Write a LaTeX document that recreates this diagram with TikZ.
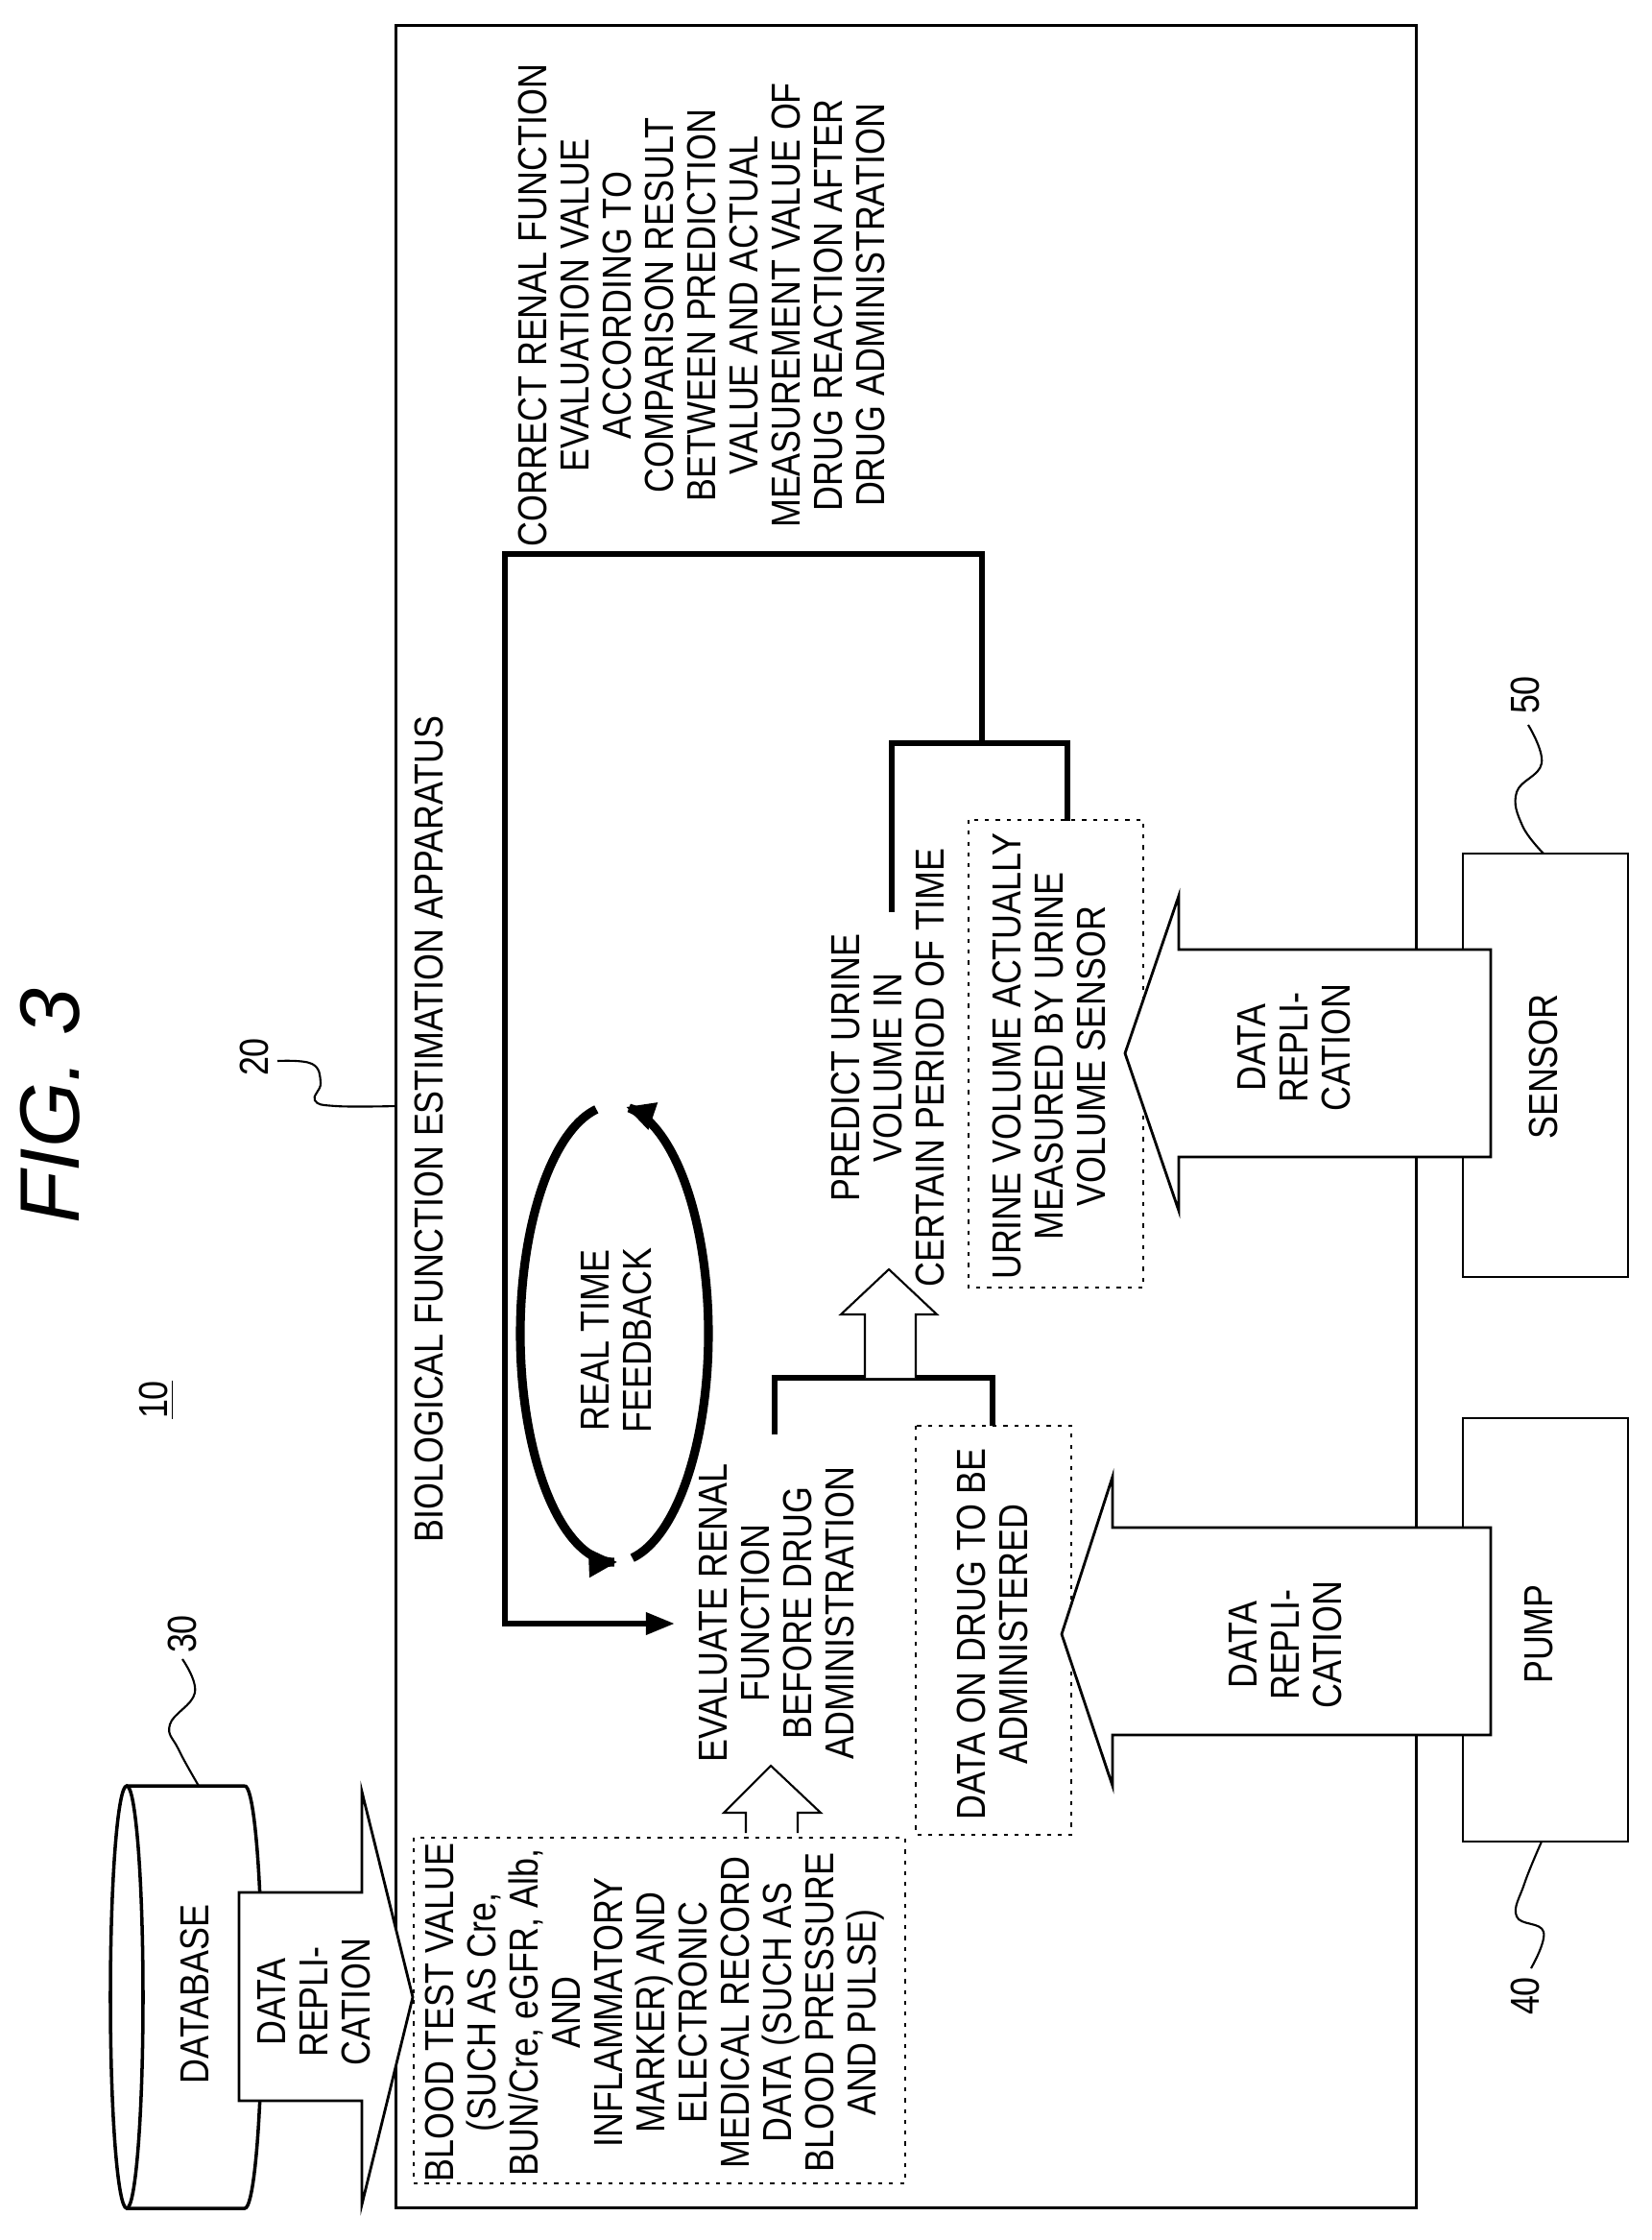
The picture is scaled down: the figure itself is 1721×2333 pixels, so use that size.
\documentclass[tikz,border=0pt]{standalone}
\usepackage{fontspec}
\setmainfont{Liberation Sans}[FakeStretch=0.85]
\newfontfamily\figfont{Liberation Sans}
\usetikzlibrary{arrows.meta}
\begin{document}
\begin{tikzpicture}[x=0.01cm,y=-0.01cm,
  txt/.style={rotate=90,align=center,inner sep=0pt,font=\fontsize{12}{12.5}\selectfont},
  thin box/.style={draw,line width=0.8pt},
  dot box/.style={draw,line width=0.6pt,dash pattern=on 1.2pt off 2pt},
  thick/.style={line width=1.8pt},
  blockarrow/.style={draw,fill=white,line width=0.8pt},
  hollow/.style={draw,fill=white,line width=0.6pt},
  lead/.style={line width=0.6pt}]
\useasboundingbox (0,0) rectangle (1721,2333);
% titles
\node[rotate=90,inner sep=0pt,font=\figfont\itshape\fontsize{25}{30}\selectfont] (fig) at (52,1152) {FIG. 3};
\node[rotate=90,inner sep=1pt,font=\fontsize{12}{12.5}\selectfont] (ten) at (163,1458) {\underline{10}};
% main box
\node[thin box,minimum width=10.62cm,minimum height=22.72cm,inner sep=0pt] (mainbox) at (944,1163) {};
\node[txt] (twenty) at (265,1101) {20};
\draw[lead] plot[smooth,tension=0.7] coordinates {(289,1105) (325,1108) (334,1128) (328,1146) (350,1152) (413,1152)};
\node[txt] (biol) at (447,1176) {BIOLOGICAL FUNCTION ESTIMATION APPARATUS};
% correct text
\node[txt] (correct) at (731,318) {CORRECT RENAL FUNCTION\\EVALUATION VALUE\\ACCORDING TO\\COMPARISON RESULT\\BETWEEN PREDICTION\\VALUE AND ACTUAL\\MEASUREMENT VALUE OF\\DRUG REACTION AFTER\\DRUG ADMINISTRATION};
% database cylinder
\draw[line width=1pt,fill=white] (132,1860) -- (255,1860)
   plot[domain=-90:90,samples=40] ({255+18*cos(\x)},{2080+220*sin(\x)}) -- (132,2300);
\draw[line width=1pt] (132,2080) ellipse [x radius=17,y radius=220];
\node[txt] (db) at (203,2077) {DATABASE};
\node[txt] (thirty) at (190,1702) {30};
\draw[lead] plot[smooth,tension=0.7] coordinates {(190,1728) (203,1763) (177,1796) (186,1822) (207,1860)};
% DB block arrow
\draw[blockarrow] (249,1971) -- (377,1971) -- (377,1866) -- (430,2080) -- (377,2296) -- (377,2188) -- (249,2188) -- cycle;
\node[txt] (dbarrow) at (327,2085) {DATA\\REPLI-\\CATION};
% blood box
\draw[dot box] (431,1914) rectangle (943,2274);
\node[txt] (blood) at (682,2096) {BLOOD TEST VALUE\\(SUCH AS Cre,\\BUN/Cre, eGFR, Alb,\\AND\\INFLAMMATORY\\MARKER) AND\\ELECTRONIC\\MEDICAL RECORD\\DATA (SUCH AS\\BLOOD PRESSURE\\AND PULSE)};
% arrow blood -> evaluate
\draw[hollow] (777,1909) -- (777,1888) -- (754,1888) -- (803,1839) -- (855,1888) -- (831,1888) -- (831,1909);
\node[txt] (eval) at (809,1680) {EVALUATE RENAL\\FUNCTION\\BEFORE DRUG\\ADMINISTRATION};
% feedback ellipse
\draw[line width=2.6pt,-{Triangle[length=0.3cm,width=0.28cm]}] plot[domain=79:-83,samples=80] ({640+98*cos(\x)},{1389+238*sin(\x)});
\draw[line width=2.6pt,-{Triangle[length=0.3cm,width=0.28cm]}] plot[domain=259:88,samples=80] ({640+98*cos(\x)},{1389+238*sin(\x)});
\node[txt] (rtf) at (642,1396) {REAL TIME\\FEEDBACK};
% drug data box
\draw[dot box] (954,1485) rectangle (1116,1911);
\node[txt] (drug) at (1034,1702) {DATA ON DRUG TO BE\\ADMINISTERED};
% predict
\node[txt] (predict) at (925,1112) {PREDICT URINE\\VOLUME IN\\CERTAIN PERIOD OF TIME};
\draw[dot box] (1009,854) rectangle (1191,1341);
\node[txt] (urine) at (1093,1100) {URINE VOLUME ACTUALLY\\MEASURED BY URINE\\VOLUME SENSOR};
% bracket 2 and arrow
\draw[thick] (807,1494) -- (807,1435) -- (1034,1435) -- (1034,1485);
\draw[hollow] (901,1435) -- (901,1369) -- (876,1369) -- (926,1322) -- (976,1369) -- (954,1369) -- (954,1435);
% feedback loop
\draw[thick] (929,950) -- (929,774) -- (1112,774) -- (1112,855);
\coordinate (fbtip) at (703,1691);
\draw[thick,-{Triangle[length=0.3cm,width=0.22cm]}] (1023,774) -- (1023,577) -- (526,577) -- (526,1691) -- (fbtip);
% pump and sensor
\draw[thin box] (1524,1477) rectangle (1696,1918);
\node[txt] (pump) at (1603,1702) {PUMP};
\draw[thin box] (1524,889) rectangle (1696,1330);
\node[txt] (sensor) at (1608,1111) {SENSOR};
\draw[blockarrow] (1553,1591) -- (1159,1591) -- (1159,1538) -- (1106,1702) -- (1159,1860) -- (1159,1807) -- (1553,1807) -- cycle;
\node[txt] (parrow) at (1339,1713) {DATA\\REPLI-\\CATION};
\draw[blockarrow] (1553,989) -- (1228,989) -- (1228,933) -- (1172,1097) -- (1228,1261) -- (1228,1205) -- (1553,1205) -- cycle;
\node[txt] (sarrow) at (1348,1091) {DATA\\REPLI-\\CATION};
\node[txt] (fifty) at (1589,724) {50};
\draw[lead] plot[smooth,tension=0.7] coordinates {(1592,755) (1606,795) (1580,825) (1586,860) (1608,889)};
\node[txt] (forty) at (1589,2079) {40};
\draw[lead] plot[smooth,tension=0.7] coordinates {(1606,1918) (1588,1962) (1580,1996) (1608,2012) (1595,2050)};
\end{tikzpicture}
\end{document}
